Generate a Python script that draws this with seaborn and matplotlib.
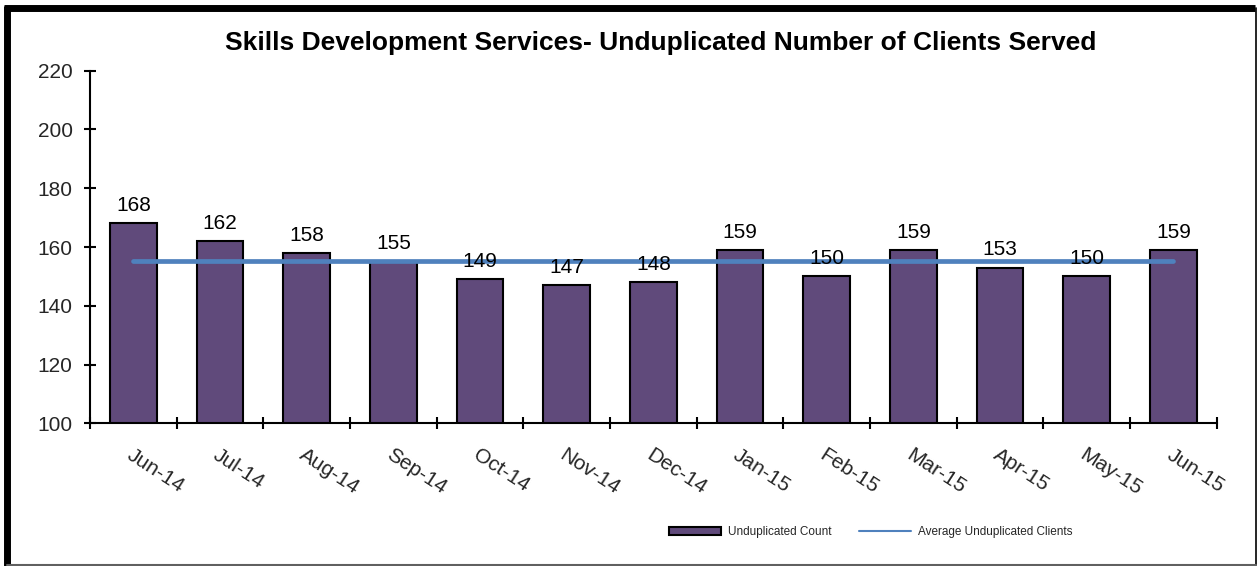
import numpy as np
import pandas as pd
import matplotlib
matplotlib.use("Agg")
import matplotlib.pyplot as plt
from matplotlib.lines import Line2D
from matplotlib.patches import Patch
import seaborn as sns

months = ["Jun-14", "Jul-14", "Aug-14", "Sep-14", "Oct-14", "Nov-14", "Dec-14",
          "Jan-15", "Feb-15", "Mar-15", "Apr-15", "May-15", "Jun-15"]
counts = [168, 162, 158, 155, 149, 147, 148, 159, 150, 159, 153, 150, 159]
y_ticks = [100, 120, 140, 160, 180, 200, 220]

title = "Skills Development Services- Unduplicated Number of Clients Served"
bar_label = "Unduplicated Count"
line_label = "Average Unduplicated Clients"

bar_color = "#604A7B"
line_color = "#4F81BD"

sns.set_theme(style="white")
plt.rcParams["font.family"] = ["Liberation Sans", "DejaVu Sans"]

df = pd.DataFrame({"month": months, "count": counts})
df["average"] = np.mean(counts)

W, H = 1257, 566
fig = plt.figure(figsize=(W / 100, H / 100), dpi=100)
ax = fig.add_axes([90 / W, 1 - 423.3 / H, (1216.7 - 90) / W, (423.3 - 70.7) / H])

sns.barplot(data=df, x="month", y="count", color=bar_color, edgecolor="black",
            linewidth=1.5, width=0.54, saturation=1, ax=ax)
sns.lineplot(data=df, x="month", y="average", color=line_color, linewidth=3.4,
             solid_capstyle="round", ax=ax)

for i, v in enumerate(counts):
    ax.annotate(str(v), (i, v), xytext=(0, 6), textcoords="offset points",
                ha="center", va="bottom", fontsize=15, color="black")

ax.set_ylim(100, 220)
ax.set_xlim(-0.5, len(months) - 0.5)
ax.set_yticks(y_ticks)
ax.set_yticklabels([str(t) for t in y_ticks], fontsize=15)
ax.tick_params(axis="y", direction="inout", length=9, width=1.5, color="black",
               left=True, pad=8)

ax.set_xticks(range(len(months)))
ax.set_xticklabels(months, fontsize=15, rotation=-33, ha="left",
                   rotation_mode="anchor")
ax.tick_params(axis="x", which="major", length=0, pad=16)
ax.set_xticks(np.arange(-0.5, len(months), 1.0), minor=True)
ax.tick_params(axis="x", which="minor", direction="inout", length=9, width=1.5,
               color="black", bottom=True)

ax.set_xlabel("")
ax.set_ylabel("")
for side in ("top", "right"):
    ax.spines[side].set_visible(False)
for side in ("left", "bottom"):
    ax.spines[side].set_color("black")
    ax.spines[side].set_linewidth(1.5)

fig.text(661 / W, 1 - 43 / H, title, ha="center", va="center",
         fontsize=19, fontweight="bold", color="black")

handles = [Patch(facecolor=bar_color, edgecolor="black", linewidth=1.5),
           Line2D([0], [0], color=line_color, linewidth=1.5)]
fig.legend(handles, [bar_label, line_label], loc="center",
           bbox_to_anchor=(871 / W, 1 - 532 / H), ncol=2, frameon=False,
           fontsize=8.5, handlelength=4.4, handleheight=0.6, columnspacing=2.3,
           handletextpad=0.6)

# outer frame: heavy on left and top, light on right and bottom
fig.add_artist(Line2D([7 / W, 7 / W], [0, 1 - 6 / H], transform=fig.transFigure,
                      color="black", linewidth=5, solid_capstyle="butt"))
fig.add_artist(Line2D([4 / W, 1255 / W], [1 - 8 / H, 1 - 8 / H],
                      transform=fig.transFigure, color="black", linewidth=5,
                      solid_capstyle="butt"))
fig.add_artist(Line2D([1255.5 / W, 1255.5 / W], [1 / H, 1 - 8 / H],
                      transform=fig.transFigure, color="black", linewidth=1.2))
fig.add_artist(Line2D([7 / W, 1256 / W], [1.5 / H, 1.5 / H],
                      transform=fig.transFigure, color="#606060", linewidth=1.5))

fig.savefig("out.png", dpi=100)
